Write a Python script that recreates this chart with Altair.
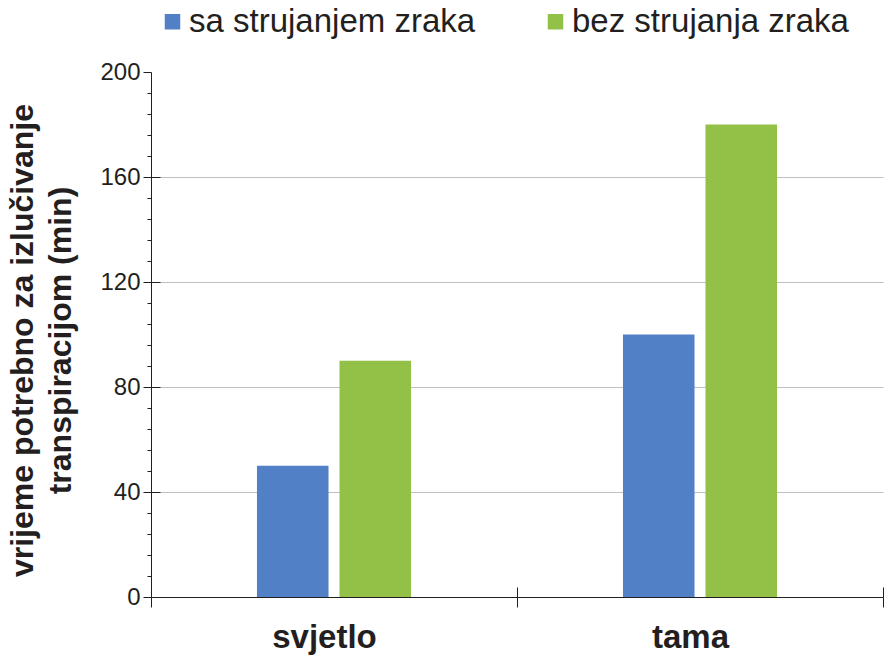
import altair as alt
import pandas as pd

categories = ["svjetlo", "tama"]
series = ["sa strujanjem zraka", "bez strujanja zraka"]
with_flow = [50, 100]
without_flow = [90, 180]
colors = ["#5280C6", "#93C047"]
y_ticks = list(range(0, 201, 8))
y_inner_ticks = [40, 80, 120, 160]
offset_slots = ["_l"] + series + ["_r"]

rows = []
for i, c in enumerate(categories):
    rows.append({"kategorija": c, "serija": series[0], "vrijeme": with_flow[i]})
    rows.append({"kategorija": c, "serija": series[1], "vrijeme": without_flow[i]})
df = pd.DataFrame(rows)

TXT = "#231F20"
FONT = "Liberation Sans"

x_scale = alt.Scale(paddingInner=0, paddingOuter=0)
xo_scale = alt.Scale(domain=offset_slots, paddingInner=0.133, paddingOuter=0.284)
y_scale = alt.Scale(domain=[0, 200], nice=False)

bars = alt.Chart(df).mark_bar().encode(
    x=alt.X(
        "kategorija:N",
        sort=categories,
        scale=x_scale,
        axis=alt.Axis(
            title=None,
            orient="bottom",
            tickBand="extent",
            tickSize=10,
            tickColor=TXT,
            domainColor=TXT,
            labelAngle=0,
            labelFont=FONT,
            labelFontSize=33,
            labelFontWeight="bold",
            labelColor=TXT,
            labelPadding=14,
            labelOffset=-10,
            grid=False,
        ),
    ),
    xOffset=alt.XOffset("serija:N", scale=xo_scale),
    y=alt.Y(
        "vrijeme:Q",
        scale=y_scale,
        axis=alt.Axis(
            title=["vrijeme potrebno za izlučivanje", "transpiracijom (min)"],
            orient="left",
            titleFont=FONT,
            titleFontSize=32,
            titleFontWeight="bold",
            titleColor=TXT,
            titleLineHeight=38,
            titlePadding=22,
            titleY=268,
            values=y_ticks,
            labelExpr="datum.value % 40 === 0 ? datum.label : ''",
            labelFont=FONT,
            labelFontSize=24,
            labelColor=TXT,
            labelPadding=3,
            tickColor=TXT,
            domainColor=TXT,
            tickSize={"condition": {"test": "datum.value % 40 === 0", "value": 8}, "value": 4},
            gridColor="#BFBFBF",
            gridOpacity={
                "condition": {"test": "datum.value % 40 === 0 && datum.value > 0 && datum.value < 200", "value": 1},
                "value": 0,
            },
        ),
    ),
    color=alt.Color(
        "serija:N",
        sort=series,
        scale=alt.Scale(domain=series, range=colors),
        legend=alt.Legend(
            title=None,
            orient="none",
            direction="horizontal",
            legendX=5,
            legendY=-67,
            symbolType="square",
            symbolSize=240,
            symbolStrokeWidth=0,
            labelFont=FONT,
            labelFontSize=33,
            labelColor=TXT,
            labelOffset=0,
            labelLimit=600,
            columnPadding=63,
            padding=0,
        ),
    ),
)

overlay = alt.Chart(df).mark_bar(opacity=0).encode(
    x=alt.X(
        "kategorija:N",
        sort=categories,
        scale=x_scale,
        axis=alt.Axis(
            title=None,
            orient="top",
            offset=-525,
            labels=False,
            domain=False,
            grid=False,
            tickBand="extent",
            tickSize=10,
            tickColor=TXT,
        ),
    ),
    xOffset=alt.XOffset("serija:N", scale=xo_scale),
    y=alt.Y(
        "vrijeme:Q",
        scale=y_scale,
        axis=alt.Axis(
            title=None,
            orient="right",
            offset=-732,
            values=y_inner_ticks,
            labels=False,
            domain=False,
            grid=False,
            tickSize=9,
            tickColor=TXT,
        ),
    ),
)

chart = alt.layer(bars, overlay).resolve_axis(
    x="independent", y="independent"
).properties(
    width=732,
    height=525,
    autosize=alt.AutoSizeParams(type="none"),
    padding={"left": 143, "top": 64, "right": 4, "bottom": 59},
).configure_view(stroke=None)

chart.save("out.html", embed_options={"renderer": "svg", "actions": False})
